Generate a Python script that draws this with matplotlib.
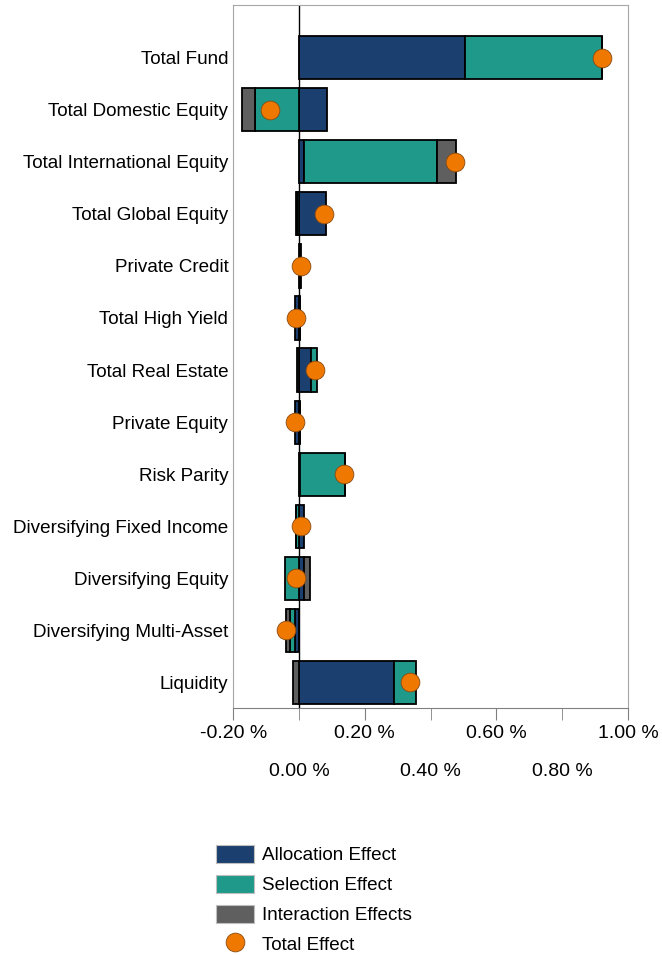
import numpy as np
import matplotlib
matplotlib.use('Agg')
from matplotlib import pyplot as plt
from matplotlib.patches import Patch
from matplotlib.lines import Line2D

plt.rcParams['font.family'] = ['Liberation Sans', 'DejaVu Sans']

# Data (percent)
categories = ['Total Fund', 'Total Domestic Equity', 'Total International Equity',
              'Total Global Equity', 'Private Credit', 'Total High Yield',
              'Total Real Estate', 'Private Equity', 'Risk Parity',
              'Diversifying Fixed Income', 'Diversifying Equity',
              'Diversifying Multi-Asset', 'Liquidity']
allocation = [0.503, 0.086, 0.015, 0.083, 0.003, -0.012, 0.035, -0.013, 0.003, 0.015, 0.015, -0.011, 0.288]
selection = [0.418, -0.135, 0.404, -0.005, 0.001, 0.002, 0.020, 0.002, 0.137, -0.008, -0.043, -0.017, 0.066]
interaction = [0.001, -0.040, 0.059, -0.003, 0.001, 0.000, -0.005, 0.000, 0.000, -0.002, 0.018, -0.012, -0.018]
total = [0.922, -0.089, 0.475, 0.075, 0.006, -0.010, 0.048, -0.011, 0.138, 0.005, -0.010, -0.040, 0.336]

series_names = ['Allocation Effect', 'Selection Effect', 'Interaction Effects']
colors = ['#1b3f6e', '#1f998a', '#5f5f5f']
dot_color = '#ef7800'

major_ticks = [-0.2, 0.2, 0.6, 1.0]
minor_ticks = [0.0, 0.4, 0.8]

fig = plt.figure(figsize=(6.62, 9.55), dpi=100)
ax = fig.add_axes([233.3 / 662, 1 - 708 / 955, (628 - 233.3) / 662, (708 - 5) / 955])

y = np.arange(len(categories))
pos = np.zeros(len(categories))
neg = np.zeros(len(categories))
for vals, name, c in zip([allocation, selection, interaction], series_names, colors):
    vals = np.array(vals)
    left = np.where(vals >= 0, pos, neg)
    ax.barh(y, vals, left=left, height=0.83, color=c, edgecolor='black',
            linewidth=1.3, zorder=3)
    pos = pos + np.where(vals >= 0, vals, 0)
    neg = neg + np.where(vals < 0, vals, 0)

ax.plot(total, y, 'o', ms=13.5, color=dot_color, mec='#8a4a10', mew=0.6, zorder=5)
ax.axvline(0, color='black', lw=1, zorder=2)

ax.set_xlim(-0.2, 1.0)
ax.set_ylim(len(categories) - 0.51, -1.01)
ax.set_yticks(y)
ax.set_yticklabels(categories, fontsize=13.6)
ax.tick_params(axis='y', length=0, pad=3.6)

ax.set_xticks(major_ticks)
ax.set_xticklabels(['%.2f %%' % v for v in major_ticks], fontsize=14)
ax.set_xticks(minor_ticks, minor=True)
ax.set_xticklabels(['%.2f %%' % v for v in minor_ticks], minor=True, fontsize=14)
ax.tick_params(axis='x', which='major', length=8.6, color='#808080', pad=3.8)
ax.tick_params(axis='x', which='minor', length=8.6, color='#808080', pad=31)

for s in ['left', 'right', 'top']:
    ax.spines[s].set_color('#a6a6a6')
ax.spines['bottom'].set_color('#808080')

handles = [Patch(facecolor=c, edgecolor='#bfbfbf', linewidth=0.8) for c in colors]
handles.append(Line2D([], [], marker='o', ls='', ms=13.5, color=dot_color,
                      mec='#8a4a10', mew=0.6))
fig.legend(handles, series_names + ['Total Effect'], loc='upper left',
           bbox_to_anchor=(216 / 662, 1 - 845 / 955), frameon=False,
           fontsize=13.6, handlelength=2.0, handleheight=1.1,
           labelspacing=0.55, handletextpad=0.42, borderpad=0, borderaxespad=0)

fig.savefig('out.png', dpi=100)
